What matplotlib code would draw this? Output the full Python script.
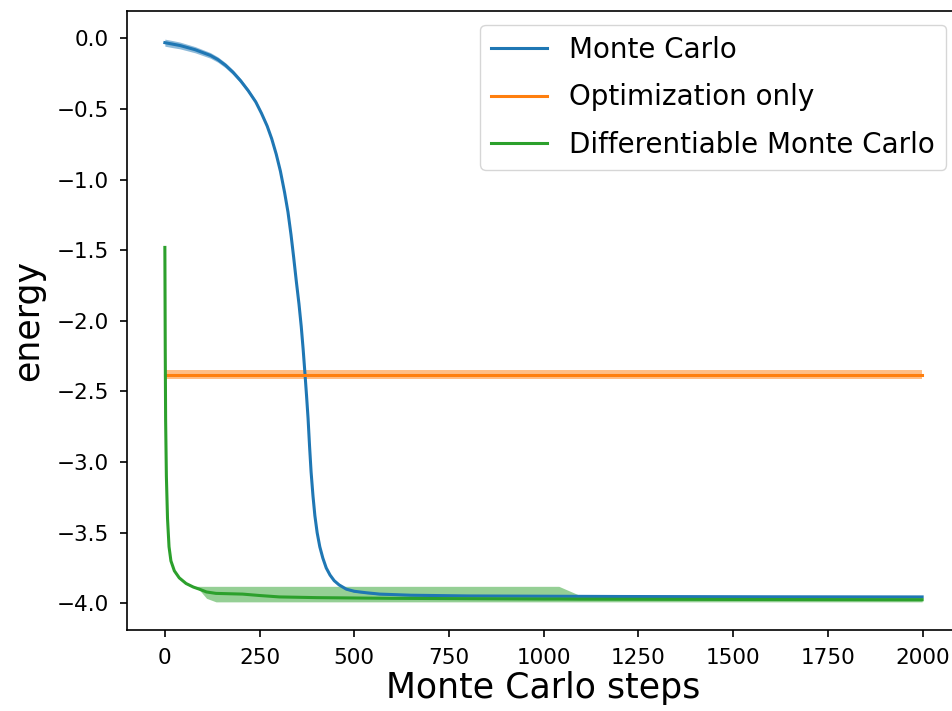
import numpy as np
from matplotlib import pyplot as plt

# Monte Carlo (blue)
mc_x = [0, 20, 40, 60, 80, 100, 120, 140, 160, 180, 200, 220, 240, 255, 270,
        282, 294, 305, 316, 325, 333, 340, 347, 354, 360, 365, 370, 374, 378,
        382, 386, 391, 396, 402, 409, 417, 426, 436, 447, 460, 479, 500, 530,
        567, 650, 800, 1200, 1600, 1999]
mc_y = [-0.03, -0.04, -0.05, -0.065, -0.08, -0.10, -0.12, -0.15, -0.19, -0.24,
        -0.30, -0.37, -0.45, -0.53, -0.62, -0.71, -0.82, -0.94, -1.09, -1.23,
        -1.39, -1.55, -1.72, -1.88, -2.04, -2.20, -2.38, -2.53, -2.69, -2.89,
        -3.07, -3.24, -3.38, -3.50, -3.60, -3.68, -3.75, -3.80, -3.84, -3.87,
        -3.90, -3.915, -3.925, -3.935, -3.943, -3.948, -3.952, -3.954, -3.955]
mc_err = [0.025, 0.025, 0.024, 0.023, 0.022, 0.021, 0.02, 0.019, 0.018, 0.017,
          0.016, 0.015, 0.013, 0.012, 0.011, 0.01, 0.01, 0.009, 0.008, 0.008,
          0.007, 0.007, 0.007, 0.006, 0.006, 0.006, 0.006, 0.006, 0.006, 0.006,
          0.006, 0.006, 0.006, 0.006, 0.006, 0.006, 0.006, 0.006, 0.006, 0.006,
          0.006, 0.006, 0.006, 0.006, 0.006, 0.006, 0.006, 0.006, 0.006]

# Optimization only (orange)
opt_x = [0, 1999]
opt_y = [-2.38, -2.38]
opt_err = [0.03, 0.03]

# Differentiable Monte Carlo (green)
dmc_x = [0, 1, 2, 4, 7, 11, 16, 25, 38, 56, 75, 91, 110, 135, 205, 250, 302,
         400, 600, 1000, 1040, 1096, 1500, 1999]
dmc_y = [-1.48, -2.2, -2.7, -3.1, -3.4, -3.6, -3.70, -3.77, -3.82, -3.86,
         -3.885, -3.90, -3.92, -3.93, -3.935, -3.945, -3.955, -3.96, -3.965,
         -3.97, -3.97, -3.971, -3.973, -3.975]
dmc_hi = [-1.475, -2.195, -2.695, -3.095, -3.395, -3.595, -3.695, -3.765,
          -3.815, -3.855, -3.88, -3.88, -3.88, -3.88, -3.88, -3.88, -3.88,
          -3.88, -3.88, -3.88, -3.88, -3.945, -3.955, -3.958]
dmc_lo = [-1.485, -2.205, -2.705, -3.105, -3.405, -3.605, -3.705, -3.775,
          -3.825, -3.865, -3.89, -3.905, -3.965, -3.99, -3.99, -3.99, -3.99,
          -3.99, -3.99, -3.99, -3.99, -3.99, -3.99, -3.99]

fig = plt.figure(figsize=(9.53, 7.11), dpi=100)
ax = fig.add_axes([127 / 953, 81 / 711, 833 / 953, 619 / 711])

lw = 2.2
series = [
    (mc_x, mc_y, np.array(mc_y) + mc_err, np.array(mc_y) - mc_err, "C0", "Monte Carlo"),
    (opt_x, opt_y, np.array(opt_y) + opt_err, np.array(opt_y) - opt_err, "C1", "Optimization only"),
    (dmc_x, dmc_y, dmc_hi, dmc_lo, "C2", "Differentiable Monte Carlo"),
]
for x, y, hi, lo, color, label in series:
    ax.plot(x, y, color=color, lw=lw, label=label)
    ax.fill_between(x, lo, hi, color=color, alpha=0.5, lw=0)

ax.set_xticks(np.arange(0, 2001, 250))
ax.set_yticks(np.arange(-4.0, 0.01, 0.5))
ax.tick_params(labelsize=15.5, length=5.2, width=1.2, pad=8)
for s in ax.spines.values():
    s.set_linewidth(1.2)
ax.set_xlabel("Monte Carlo steps", fontsize=25, labelpad=2)
ax.set_ylabel("energy", fontsize=25, labelpad=8)
ax.legend(loc="upper right", fontsize=20, labelspacing=0.7)

fig.savefig("out.png", dpi=100)
